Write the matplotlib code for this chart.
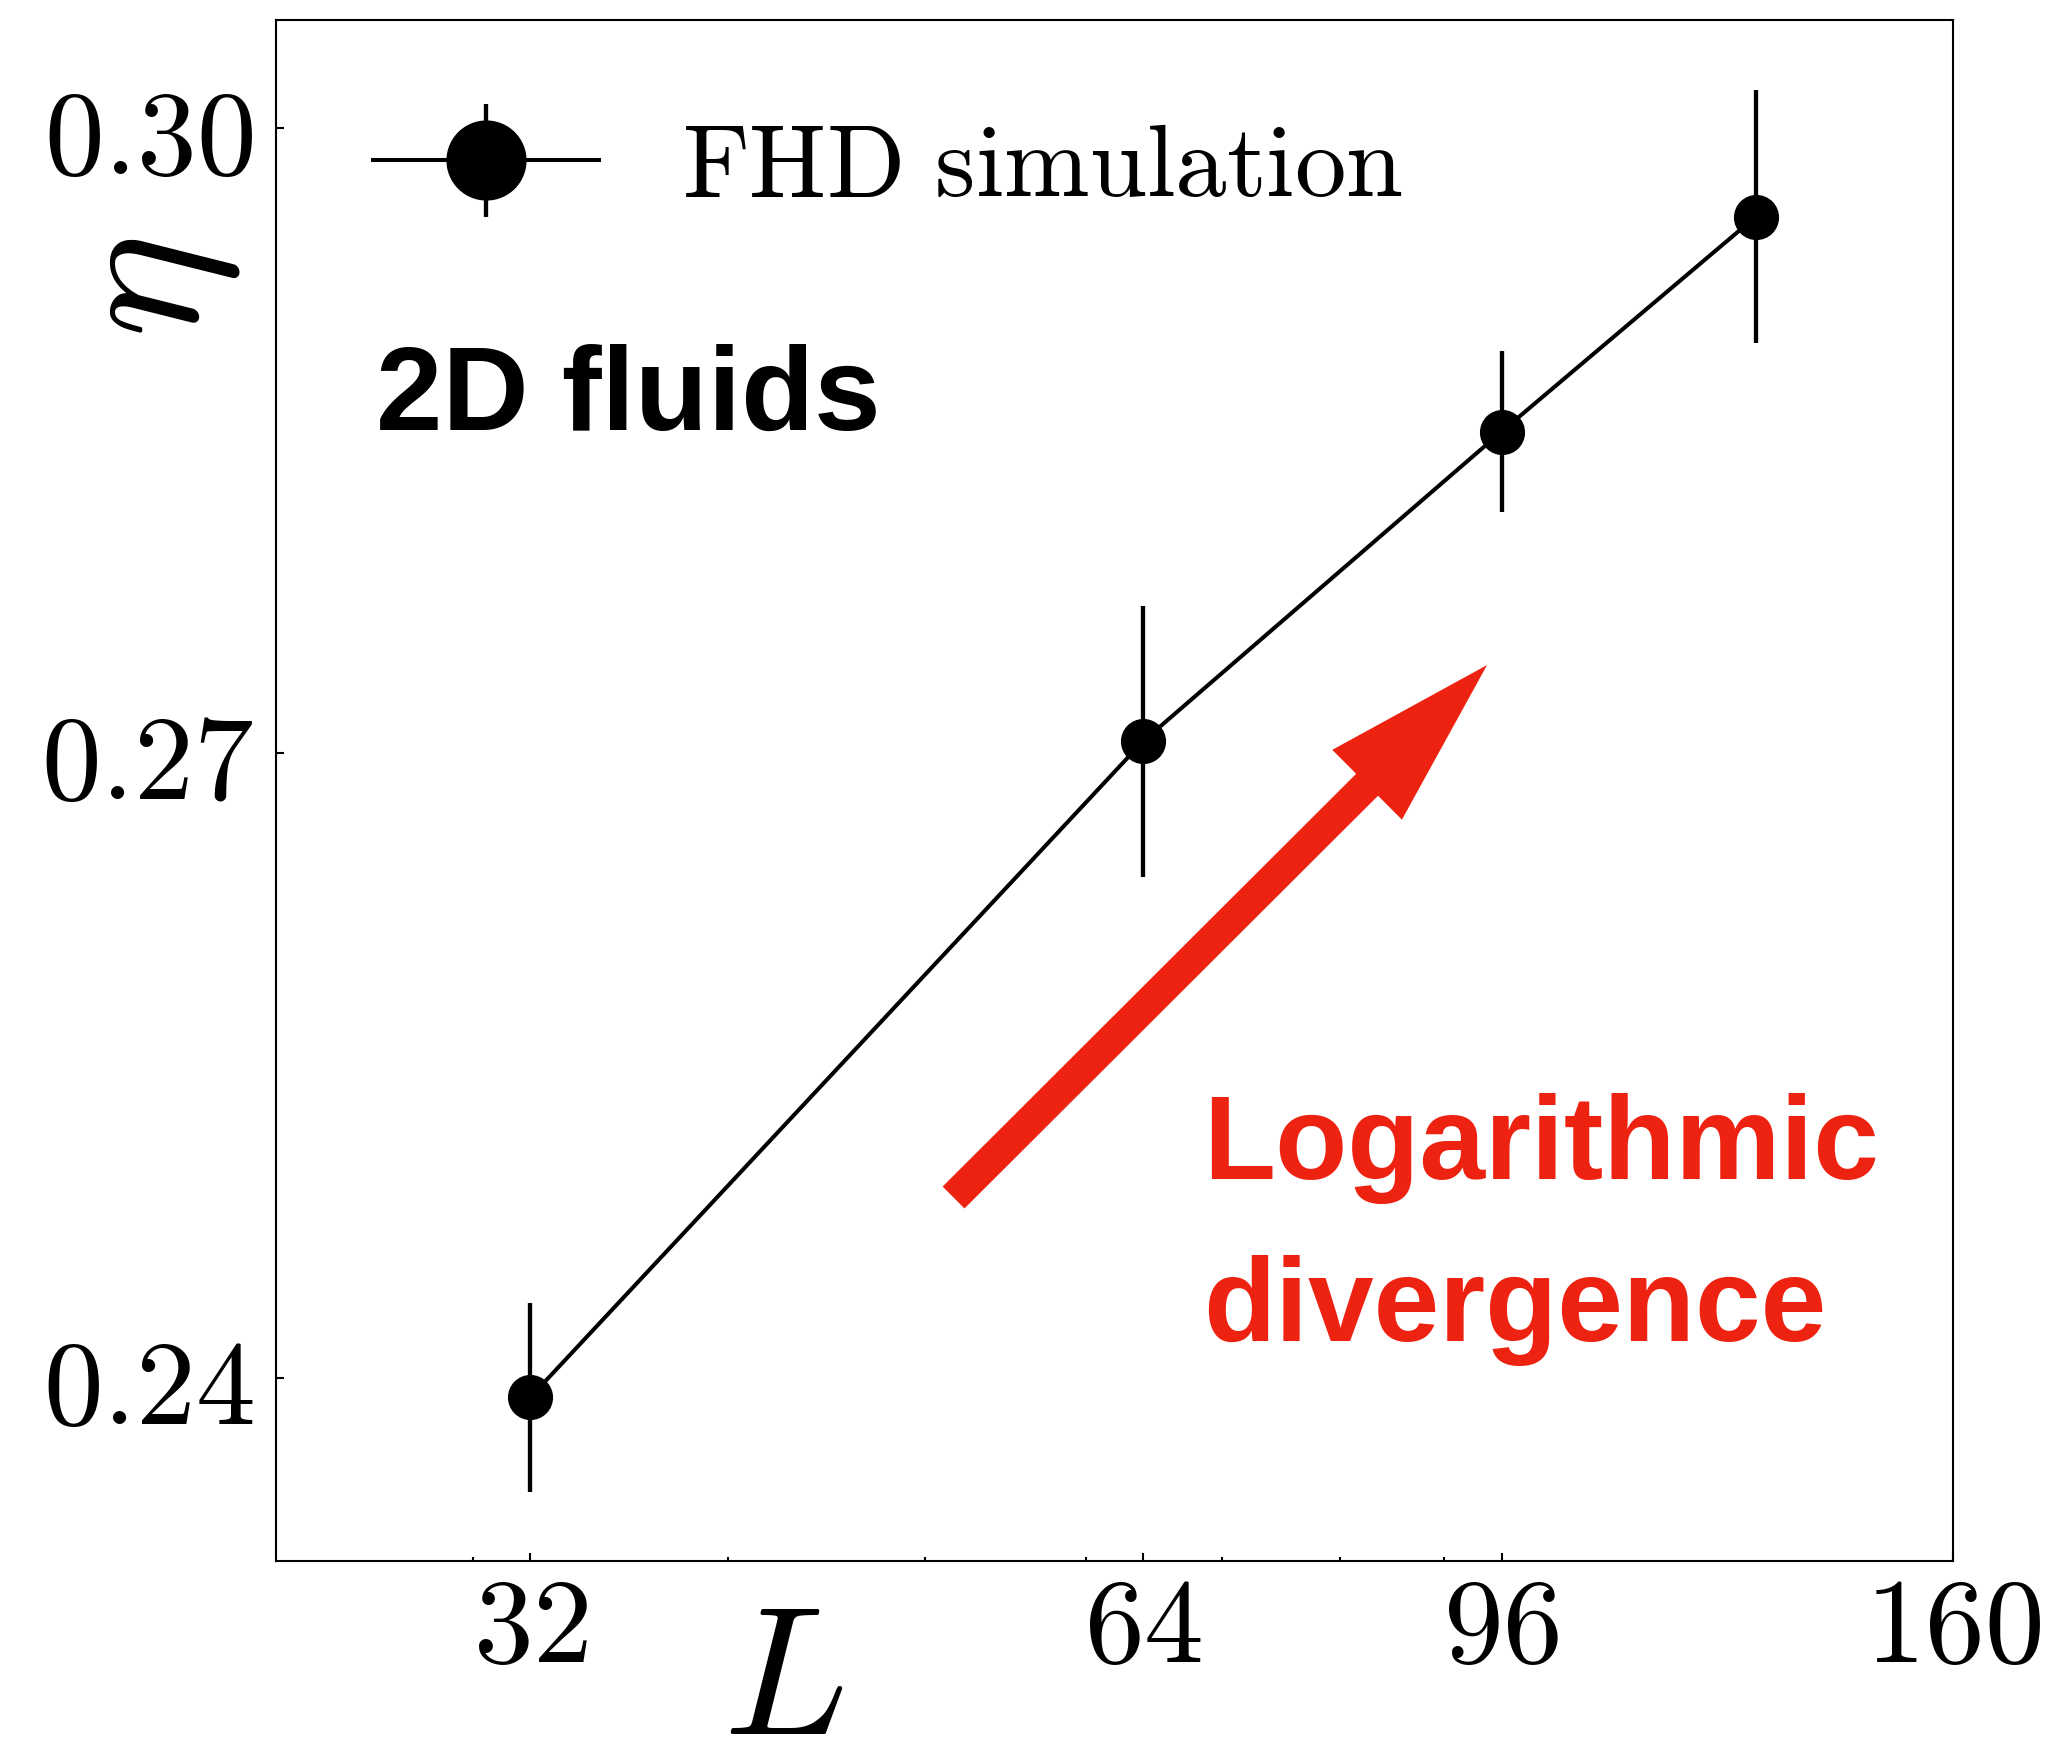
import matplotlib
matplotlib.use('Agg')
import matplotlib.pyplot as plt
from matplotlib.ticker import NullFormatter
from matplotlib.container import ErrorbarContainer
from matplotlib.legend_handler import HandlerErrorbar

plt.rcParams['mathtext.fontset'] = 'cm'
plt.rcParams['font.family'] = ['DejaVu Sans']

# ---- data ----
L_values = [32, 64, 96, 128]
eta_values = [0.23909, 0.27058, 0.28544, 0.29576]
eta_errors = [0.00453, 0.00650, 0.00385, 0.00608]

x_ticks = [32, 64, 96, 160]
x_tick_labels = ['$32$', '$64$', '$96$', '$160$']
y_ticks = [0.24, 0.27, 0.30]
y_tick_labels = ['$0.24$', '$0.27$', '$0.30$']

series_label = r'$\mathrm{FHD\ simulation}$'
x_label = r'$L$'
y_label = r'$\eta$'
panel_text = '2D fluids'
note_text = 'Logarithmic\ndivergence'

red = '#EE2211'

fig = plt.figure(figsize=(20.49, 17.37), dpi=100)
ax = fig.add_axes([0.1347, 0.1013, 0.8185, 0.8872])

ax.errorbar(L_values, eta_values, yerr=eta_errors, fmt='o-', color='black',
            ms=31.5, mew=1, lw=2.9, elinewidth=3.1, capsize=0,
            label=series_label)

ax.set_xscale('log')
ax.set_xlim(24, 160)
ax.set_ylim(0.23123, 0.30520)
ax.set_xticks(x_ticks, x_tick_labels)
ax.xaxis.set_minor_formatter(NullFormatter())
ax.set_yticks(y_ticks, y_tick_labels)

ax.tick_params(which='both', direction='in', labelsize=86, width=1.5,
               top=False, right=False)
ax.tick_params(axis='y', which='major', length=5.8, pad=16)
ax.tick_params(axis='x', which='major', length=5.8, pad=7)
ax.tick_params(which='minor', length=2.8)
for s in ax.spines.values():
    s.set_linewidth(1.5)

ax.set_ylabel(y_label, fontsize=142, rotation=90, va='center', ha='center')
ax.yaxis.set_label_coords(-0.077, 0.826)
ax.set_xlabel(x_label, fontsize=132, va='baseline', ha='center')
ax.xaxis.set_label_coords(0.3023, -0.1122)

ax.legend(loc='center left', bbox_to_anchor=(0.058, 0.904), frameon=False,
          fontsize=74, markerscale=1.8, handlelength=2.2, handletextpad=0.8,
          borderpad=0, borderaxespad=0,
          handler_map={ErrorbarContainer: HandlerErrorbar(yerr_size=0.55)})

ax.text(0.0596, 0.7339, panel_text, transform=ax.transAxes, fontsize=86,
        fontweight='bold', family=['Liberation Sans'], va='baseline', ha='left')

ax.text(0.553, 0.3037, note_text, transform=ax.transAxes, fontsize=85,
        fontweight='bold', family=['Liberation Sans'], color=red,
        va='top', ha='left', linespacing=1.59)

ax.annotate('', xy=(0.7221, 0.5814), xytext=(0.404, 0.2359),
            xycoords='axes fraction', textcoords='axes fraction',
            arrowprops=dict(arrowstyle='simple,head_length=122,head_width=71,tail_width=22.3',
                            mutation_scale=1, color=red, shrinkA=0, shrinkB=0, lw=0))

fig.savefig('out.png', dpi=100)
